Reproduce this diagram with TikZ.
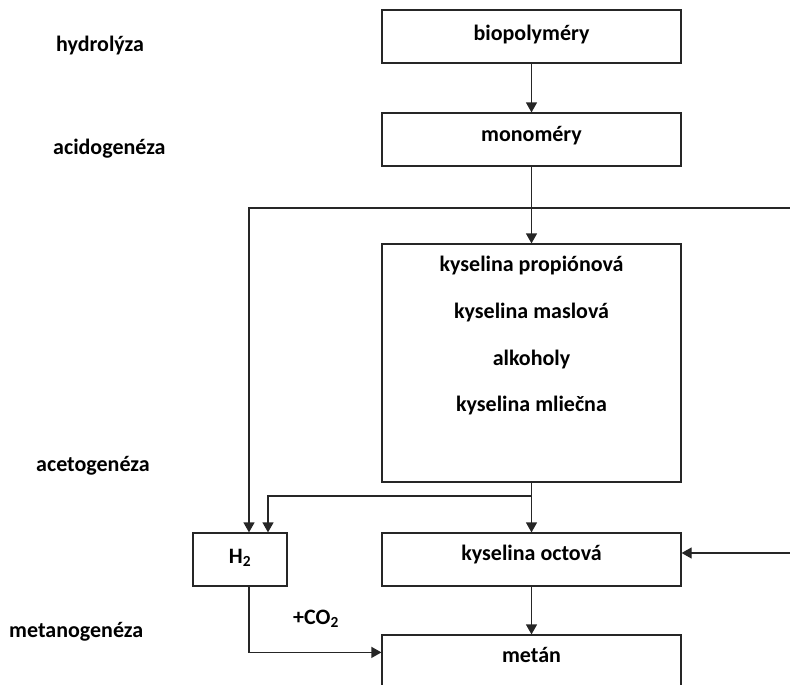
\documentclass[tikz,border=0pt]{standalone}
\usepackage{fontspec}
\setmainfont{Carlito}
\usetikzlibrary{arrows.meta}
\begin{document}
\begin{tikzpicture}[x=1pt,y=-1pt,
  font=\bfseries\fontsize{22}{26}\selectfont,
  line/.style={draw=black!85,line width=1.2pt},
  arr/.style={line,-{Triangle[length=10pt,width=11pt]}},
  box/.style={line,rectangle,inner xsep=0pt,inner ysep=0pt,minimum width=299pt,minimum height=53pt,align=center},
  lbl/.style={inner sep=0pt,anchor=west},
  txt/.style={inner sep=0pt,anchor=base}]
\useasboundingbox (0,0) rectangle (790,685);
\clip (0,0) rectangle (790,685);
% stage labels
\node[lbl] (hyd) at (56,46) {hydrolýza};
\node[lbl] (aci) at (53,149) {acidogenéza};
\node[lbl] (ace) at (36,466) {acetogenéza};
\node[lbl] (met) at (9,632) {metanogenéza};
% boxes
\node[box,text height=9pt,text depth=1pt] (bio) at (531.5,36.5) {biopolyméry};
\node[box,text height=7pt,text depth=3pt] (mono) at (531.5,139.5) {monoméry};
\node[box,minimum height=238pt] (acids) at (531.5,363) {};
\node[txt] (pro) at (531.5,271) {kyselina propiónová};
\node[txt] (mas) at (531.5,318) {kyselina maslová};
\node[txt] (alk) at (531.5,365) {alkoholy};
\node[txt] (mli) at (531.5,411) {kyselina mliečna};
\node[box,minimum width=94pt,text height=9pt,text depth=1pt] (h2) at (240,559.5) {H\textsubscript{2}};
\node[box,text height=6pt,text depth=5pt] (octova) at (531.5,559.5) {kyselina octová};
\node[box,minimum height=100pt,text height=0pt,text depth=46pt] (metan) at (531.5,685) {metán};
\node[lbl] (co2) at (293,619) {+CO\textsubscript{2}};
% connectors
\coordinate (feedR) at (790,208);
\coordinate (sideR) at (790,553);
\coordinate (br) at (531.5,496);
\draw[arr] (bio.south) -- (mono.north);
\draw[arr] (mono.south) -- (acids.north);
\draw[arr] (feedR) -| ([xshift=9pt]h2.north);
\draw[arr] (acids.south) -- (octova.north);
\draw[arr] (br) -| ([xshift=28pt]h2.north);
\draw[arr] (sideR) -- (sideR -| octova.east);
\draw[arr] (octova.south) -- (metan.north);
\draw[arr] ([xshift=9pt]h2.south) |- ([yshift=-18pt]metan.north west);
\end{tikzpicture}
\end{document}
